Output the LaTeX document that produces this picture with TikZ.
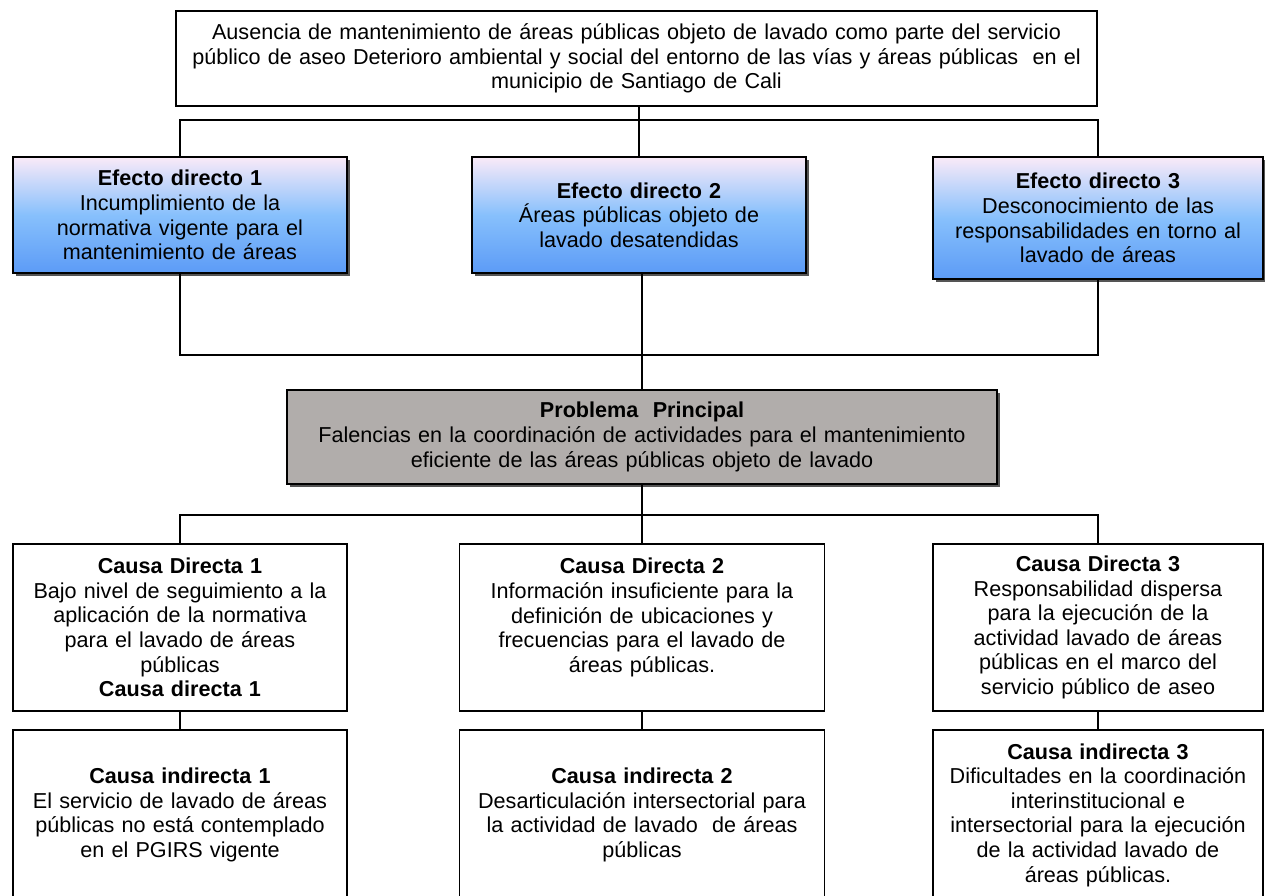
\documentclass[tikz,border=0pt]{standalone}
\usepackage{fontspec}
\setmainfont{Liberation Sans}
\usepackage{tikz}
\usetikzlibrary{positioning, shadows}
\definecolor{miRosa}{RGB}{250, 234, 248}
\definecolor{miCeleste}{RGB}{135, 192, 252}
\definecolor{miAzul}{RGB}{92, 155, 246}
\definecolor{miGris}{RGB}{177, 173, 171}
\definecolor{miSombra}{RGB}{85, 85, 85}

\begin{document}
\begin{tikzpicture}[x=1pt, y=-1pt,
        caja/.style={draw, line width=1.8pt, align=center, inner xsep=5pt, inner ysep=0pt,
            font=\fontsize{21.6}{24.6}\selectfont},
        sombra/.style={drop shadow={shadow xshift=3pt, shadow yshift=-3pt, fill=miSombra, opacity=1}},
        efecto/.style={caja, sombra, top color=miRosa, bottom color=miAzul, middle color=miCeleste},
        problema/.style={caja, sombra, fill=miGris},
        linea/.style={line width=1.8pt}]
        \useasboundingbox (0,0) rectangle (1265,895);
        
        % Fin: efecto general
        \node[caja, text width=911pt, minimum height=95pt] (fin) at (636.5,58.5)
            {Ausencia de mantenimiento de áreas públicas objeto de lavado como parte del servicio\\
             público de aseo Deterioro ambiental y social del entorno de las vías y áreas públicas \ en el\\
             municipio de Santiago de Cali};
        
        % Efectos directos
        \node[efecto, text width=324pt, minimum height=116pt] (ef1) at (180,215)
            {\textbf{Efecto directo 1}\\ Incumplimiento de la\\ normativa vigente para el\\ mantenimiento de áreas};
        \node[efecto, text width=324pt, minimum height=116pt] (ef2) at (639,215)
            {\textbf{Efecto directo 2}\\ Áreas públicas objeto de\\ lavado desatendidas};
        \node[efecto, text width=320pt, minimum height=122pt] (ef3) at (1098,218)
            {\textbf{Efecto directo 3}\\ Desconocimiento de las\\ responsabilidades en torno al\\ lavado de áreas};
        
        % Problema principal
        \node[problema, text width=700pt, minimum height=94pt] (prob) at (642,437)
            {\textbf{Problema \ Principal}\\ Falencias en la coordinación de actividades para el mantenimiento\\
             eficiente de las áreas públicas objeto de lavado};
        
        % Causas directas
        \node[caja, text width=324pt, minimum height=167pt] (cd1) at (180,627.5)
            {\textbf{Causa Directa 1}\\ Bajo nivel de seguimiento a la\\ aplicación de la normativa\\
             para el lavado de áreas\\ públicas\\ \textbf{Causa directa 1}};
        \node[caja, text width=355pt, minimum height=167pt] (cd2) at (642,627.5)
            {\textbf{Causa Directa 2}\\ Información insuficiente para la\\ definición de ubicaciones y\\
             frecuencias para el lavado de\\ áreas públicas.\\ \mbox{}};
        \node[caja, text width=320pt, minimum height=167pt] (cd3) at (1098,627.5)
            {\textbf{Causa Directa 3}\\ Responsabilidad dispersa\\ para la ejecución de la\\
             actividad lavado de áreas\\ públicas en el marco del\\ servicio público de aseo};
        
        % Causas indirectas
        \node[caja, text width=324pt, minimum height=170pt] (ci1) at (180,815)
            {\textbf{Causa indirecta 1}\\ El servicio de lavado de áreas\\ públicas no está contemplado\\ en el PGIRS vigente};
        \node[caja, text width=355pt, minimum height=170pt] (ci2) at (642,815)
            {\textbf{Causa indirecta 2}\\ Desarticulación intersectorial para\\ la actividad de lavado \ de áreas\\ públicas};
        \node[caja, text width=320pt, minimum height=170pt] (ci3) at (1098,815)
            {\textbf{Causa indirecta 3}\\ Dificultades en la coordinación\\ interinstitucional e\\
             intersectorial para la ejecución\\ de la actividad lavado de\\ áreas públicas.};
        
        % Conectores
        \draw[linea] (fin.south -| ef2.north) -- (ef2.north);
        \draw[linea] (ef1.north) -- ++(0,-36) -| (ef3.north);
        \draw[linea] (ef1.south) -- ++(0,81) -| (ef3.south);
        \draw[linea] (ef2.south -| prob.north) -- (prob.north);
        \draw[linea] (prob.south -| cd2.north) -- (cd2.north);
        \draw[linea] (cd1.north) -- ++(0,-28) -| (cd3.north);
        \draw[linea] (cd1.south) -- (ci1.north);
        \draw[linea] (cd2.south) -- (ci2.north);
        \draw[linea] (cd3.south) -- (ci3.north);
    \end{tikzpicture}
\end{document}
